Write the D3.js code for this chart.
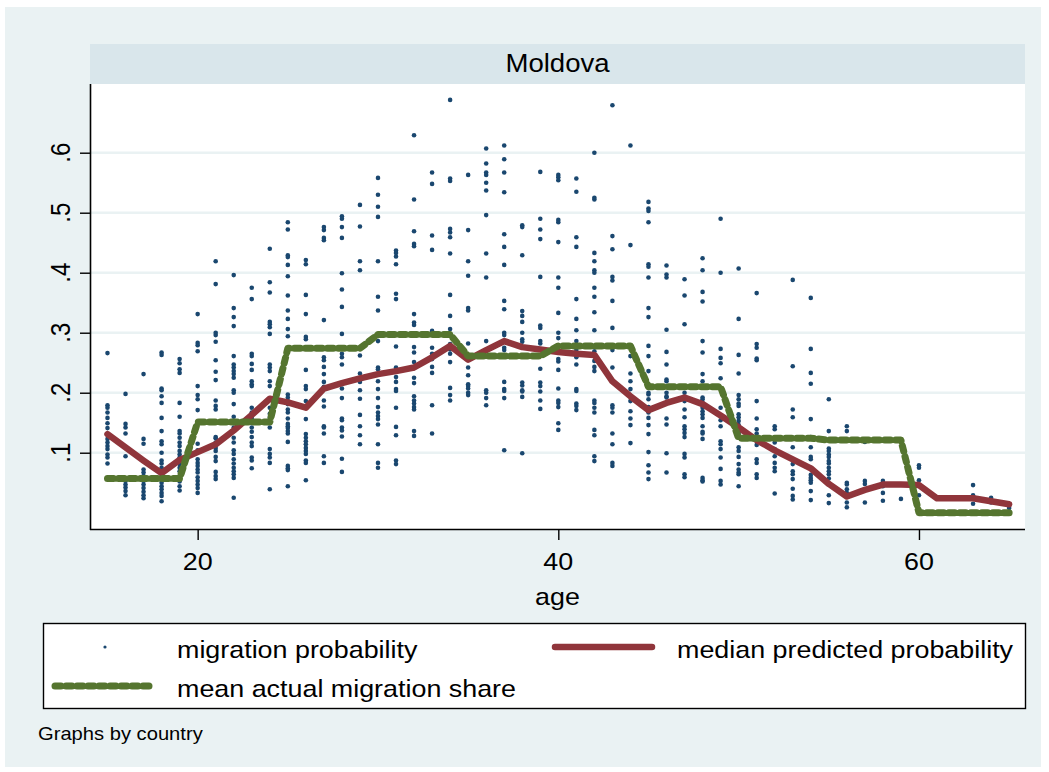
<!DOCTYPE html>
<html><head><meta charset="utf-8">
<script src="https://cdn.jsdelivr.net/npm/d3@7/dist/d3.min.js"></script>
<style>
body{margin:0;background:#fff}
svg{display:block}
text{font-family:"Liberation Sans",Arial,sans-serif;fill:#000}
</style>
</head><body>
<svg id="chart" width="1049" height="772"></svg>
<script>
// ---------------- data ----------------
const panelTitle = "Moldova";
const xAxisTitle = "age";
const noteText = "Graphs by country";
const xTickValues = [20, 40, 60];
const yTickValues = [0.1, 0.2, 0.3, 0.4, 0.5, 0.6];
const yTickLabels = [".1", ".2", ".3", ".4", ".5", ".6"];
const legendLabels = ["migration probability", "median predicted probability", "mean actual migration share"];

const ages = [15,16,17,18,19,20,21,22,23,24,25,26,27,28,29,30,31,32,33,34,35,36,37,38,39,40,
              41,42,43,44,45,46,47,48,49,50,51,52,53,54,55,56,57,58,59,60,61,62,63,64,65];

// migration probability (individual points), one list per age
const migrationProb = [
  [0.266,0.179,0.175,0.167,0.158,0.149,0.141,0.131,0.123,0.117,0.111,0.106,0.097,0.092,0.082],
  [0.198,0.148,0.142,0.132,0.094,0.053,0.047,0.042,0.036,0.029],
  [0.231,0.123,0.115,0.072,0.067,0.061,0.053,0.047,0.041,0.035,0.029,0.024],
  [0.267,0.263,0.207,0.204,0.194,0.183,0.158,0.136,0.119,0.114,0.1,0.087,0.082,0.075,0.069,0.061,0.056,0.05,0.044,0.039,0.033,0.028,0.019],
  [0.256,0.249,0.239,0.233,0.183,0.16,0.136,0.132,0.125,0.117,0.111,0.103,0.097,0.092,0.086,0.081,0.075,0.069,0.06,0.052,0.044,0.037],
  [0.331,0.283,0.279,0.269,0.211,0.196,0.189,0.171,0.115,0.104,0.089,0.083,0.078,0.072,0.067,0.059,0.053,0.047,0.041,0.033],
  [0.419,0.381,0.3,0.296,0.285,0.254,0.235,0.221,0.187,0.178,0.172,0.126,0.124,0.117,0.108,0.103,0.093,0.086,0.068,0.061,0.056],
  [0.396,0.341,0.326,0.311,0.261,0.247,0.242,0.236,0.231,0.225,0.204,0.2,0.181,0.16,0.142,0.136,0.125,0.117,0.104,0.098,0.089,0.082,0.075,0.069,0.064,0.058,0.025],
  [0.375,0.356,0.265,0.261,0.248,0.238,0.219,0.214,0.211,0.175,0.167,0.158,0.15,0.142,0.135,0.126,0.117,0.111,0.092,0.087,0.074],
  [0.44,0.384,0.367,0.318,0.314,0.309,0.298,0.247,0.242,0.236,0.219,0.211,0.175,0.165,0.158,0.142,0.106,0.098,0.092,0.083,0.039],
  [0.484,0.472,0.429,0.426,0.413,0.394,0.362,0.337,0.323,0.306,0.294,0.197,0.192,0.186,0.181,0.172,0.167,0.157,0.148,0.144,0.141,0.136,0.132,0.118,0.078,0.074,0.071,0.044],
  [0.421,0.414,0.363,0.331,0.293,0.289,0.238,0.211,0.206,0.186,0.156,0.131,0.125,0.119,0.114,0.108,0.103,0.098,0.087,0.083,0.054],
  [0.476,0.471,0.458,0.454,0.321,0.259,0.254,0.243,0.231,0.218,0.21,0.187,0.177,0.144,0.142,0.132,0.094,0.083],
  [0.494,0.49,0.476,0.458,0.399,0.372,0.343,0.298,0.265,0.259,0.247,0.207,0.191,0.157,0.154,0.142,0.137,0.127,0.09,0.068],
  [0.513,0.477,0.419,0.404,0.262,0.232,0.218,0.204,0.19,0.163,0.144,0.129,0.114],
  [0.558,0.53,0.51,0.493,0.419,0.36,0.337,0.286,0.242,0.239,0.219,0.206,0.191,0.176,0.167,0.161,0.156,0.147,0.114,0.083,0.075],
  [0.437,0.433,0.427,0.414,0.365,0.356,0.277,0.242,0.226,0.218,0.206,0.203,0.175,0.143,0.129,0.087,0.081],
  [0.629,0.522,0.469,0.448,0.444,0.331,0.317,0.313,0.276,0.267,0.251,0.241,0.225,0.216,0.194,0.187,0.182,0.176,0.172,0.136,0.128],
  [0.567,0.548,0.462,0.438,0.303,0.275,0.265,0.256,0.243,0.233,0.179,0.132],
  [0.688,0.557,0.553,0.473,0.467,0.459,0.432,0.363,0.328,0.306,0.281,0.272,0.265,0.251,0.208,0.196,0.187],
  [0.563,0.471,0.419,0.395,0.341,0.337,0.282,0.242,0.229,0.214,0.211,0.207,0.2,0.196],
  [0.607,0.582,0.567,0.563,0.55,0.537,0.496,0.432,0.392,0.286,0.204,0.2,0.191,0.179],
  [0.612,0.589,0.567,0.534,0.464,0.443,0.413,0.353,0.339,0.3,0.296,0.275,0.271,0.218,0.206,0.203,0.191,0.104],
  [0.479,0.476,0.429,0.336,0.328,0.318,0.3,0.289,0.285,0.217,0.212,0.204,0.202,0.193,0.099],
  [0.568,0.49,0.472,0.456,0.393,0.312,0.308,0.286,0.282,0.24,0.217,0.211,0.202,0.187,0.173],
  [0.563,0.559,0.554,0.488,0.484,0.451,0.392,0.375,0.333,0.3,0.291,0.256,0.252,0.238,0.207,0.187,0.183,0.176,0.149,0.138],
  [0.557,0.535,0.459,0.443,0.356,0.323,0.304,0.286,0.277,0.271,0.259,0.247,0.206,0.203,0.182,0.178,0.171],
  [0.6,0.525,0.522,0.433,0.419,0.404,0.4,0.375,0.36,0.334,0.304,0.269,0.253,0.243,0.236,0.187,0.183,0.175,0.167,0.138,0.129,0.094,0.086],
  [0.679,0.461,0.439,0.393,0.387,0.353,0.308,0.271,0.242,0.179,0.175,0.167,0.132,0.114,0.083,0.078],
  [0.612,0.446,0.261,0.232,0.219,0.206,0.186,0.169,0.157,0.146,0.116],
  [0.518,0.507,0.503,0.484,0.414,0.41,0.392,0.341,0.326,0.278,0.261,0.236,0.2,0.197,0.189,0.176,0.167,0.158,0.146,0.131,0.101,0.079,0.067,0.056],
  [0.412,0.397,0.392,0.305,0.268,0.247,0.222,0.219,0.2,0.194,0.192,0.157,0.147,0.099,0.067],
  [0.389,0.362,0.314,0.2,0.186,0.172,0.159,0.144,0.139,0.133,0.126,0.098,0.092,0.064,0.059],
  [0.424,0.404,0.368,0.352,0.286,0.267,0.231,0.219,0.192,0.189,0.183,0.175,0.169,0.164,0.158,0.144,0.135,0.132,0.123,0.058,0.054,0.052],
  [0.49,0.4,0.273,0.258,0.249,0.224,0.175,0.154,0.144,0.119,0.114,0.106,0.092,0.073,0.053,0.047],
  [0.407,0.323,0.263,0.232,0.196,0.189,0.182,0.178,0.164,0.159,0.153,0.146,0.133,0.109,0.103,0.093,0.081,0.072,0.067,0.064,0.044],
  [0.366,0.281,0.275,0.257,0.254,0.186,0.157,0.139,0.132,0.113,0.089,0.083,0.064,0.058],
  [0.144,0.139,0.125,0.117,0.106,0.094,0.083,0.075,0.069,0.032],
  [0.388,0.244,0.172,0.159,0.125,0.109,0.081,0.069,0.064,0.056,0.04,0.028,0.022],
  [0.358,0.273,0.233,0.215,0.156,0.126,0.109,0.093,0.089,0.075,0.063,0.058,0.054,0.05,0.036,0.021],
  [0.189,0.136,0.107,0.103,0.097,0.093,0.086,0.082,0.075,0.069,0.064,0.057,0.047,0.029,0.016],
  [0.144,0.136,0.05,0.047,0.039,0.033,0.017,0.009],
  [0.118,0.053,0.048,0.017],
  [0.053,0.044,0.033,0.02],
  [0.023],
  [0.079,0.075,0.054,0.029],
  [],
  [],
  [0.046,0.029,0.025,0.015],
  [0.025,0.017],
  [0.008]
];

// median predicted probability by age
const medianPredicted = [0.131,0.109,0.087,0.066,0.088,0.101,0.114,0.137,0.163,0.19,
  0.184,0.175,0.207,0.216,0.224,0.231,0.236,0.242,0.259,0.278,
  0.255,0.271,0.286,0.276,0.272,0.268,0.265,0.263,0.219,0.194,
  0.171,0.183,0.192,0.181,0.162,0.142,0.121,0.104,0.089,0.074,
  0.048,0.027,0.038,0.047,0.047,0.046,0.024,0.024,0.024,0.019,0.014];

// mean actual migration share by age
const meanActual = [0.057,0.057,0.057,0.057,0.057,0.151,0.151,0.151,0.151,0.151,
  0.274,0.274,0.274,0.274,0.274,0.297,0.297,0.297,0.297,0.297,
  0.261,0.261,0.261,0.261,0.261,0.278,0.278,0.278,0.278,0.278,
  0.21,0.21,0.21,0.21,0.21,0.124,0.124,0.124,0.124,0.124,
  0.121,0.121,0.121,0.121,0.121,0.0,0.0,0.0,0.0,0.0,0.0];

// ---------------- drawing ----------------
const W = 1049, H = 772;
const plot = {left: 90, right: 1025, top: 84, bottom: 530};
const colors = {bg: "#eaf2f3", strip: "#d9e6eb", grid: "#eaf2f3", navy: "#1a476f", maroon: "#90353b", green: "#55752f"};
const SX = 1.12; // horizontal text stretch of the original rendering

const svg = d3.select("#chart");

const x = d3.scaleLinear().domain([14.03, 65.88]).range([plot.left, plot.right]);
const y = d3.scaleLinear().domain([-0.0288, 0.7145]).range([plot.bottom, plot.top]);

function label(g, px, py, str, size, anchor, rot, sx) {
  return g.append("text")
    .attr("transform", `translate(${px},${py}) scale(${sx || SX},1)` + (rot ? ` rotate(${rot})` : ""))
    .attr("text-anchor", anchor || "start")
    .style("font-size", size + "px")
    .text(str);
}

// outer background
svg.append("rect").attr("x", 0).attr("y", 0).attr("width", W).attr("height", H).attr("fill", "#fff");
svg.append("rect").attr("x", 5).attr("y", 7).attr("width", 1036).attr("height", 760).attr("fill", colors.bg);

// title strip
svg.append("rect").attr("x", plot.left).attr("y", 44).attr("width", plot.right - plot.left).attr("height", plot.top - 44).attr("fill", colors.strip);
label(svg, (plot.left + plot.right) / 2, 72, panelTitle, 26, "middle", 0, 1.06);

// plot region
svg.append("rect").attr("x", plot.left).attr("y", plot.top).attr("width", plot.right - plot.left).attr("height", plot.bottom - plot.top).attr("fill", "#fff");

// grid
svg.append("g").selectAll("line").data(yTickValues).join("line")
  .attr("x1", plot.left).attr("x2", plot.right)
  .attr("y1", d => y(d)).attr("y2", d => y(d))
  .attr("stroke", colors.grid).attr("stroke-width", 2.6);

// scatter
const pts = [];
ages.forEach((a, i) => migrationProb[i].forEach(v => pts.push({a, v})));
svg.append("g").selectAll("circle").data(pts).join("circle")
  .attr("cx", d => x(d.a)).attr("cy", d => y(d.v)).attr("r", 2.3)
  .attr("fill", colors.navy);

// lines
const series = ages.map((a, i) => ({a, med: medianPredicted[i], mean: meanActual[i]}));
svg.append("path").datum(series)
  .attr("d", d3.line().x(d => x(d.a)).y(d => y(d.med)))
  .attr("fill", "none").attr("stroke", colors.maroon).attr("stroke-width", 6.5)
  .attr("stroke-linejoin", "round").attr("stroke-linecap", "round");
svg.append("path").datum(series)
  .attr("d", d3.line().x(d => x(d.a)).y(d => y(d.mean)))
  .attr("fill", "none").attr("stroke", colors.green).attr("stroke-width", 7)
  .attr("stroke-dasharray", "6,5").attr("stroke-linejoin", "round").attr("stroke-linecap", "round");

// axes
const yAxis = svg.append("g").attr("transform", `translate(${plot.left},0)`)
  .call(d3.axisLeft(y).tickValues(yTickValues).tickSize(10).tickFormat(""));
const xAxis = svg.append("g").attr("transform", `translate(0,${plot.bottom})`)
  .call(d3.axisBottom(x).tickValues(xTickValues).tickSize(10).tickFormat(""));
[yAxis, xAxis].forEach(g => {
  g.select(".domain").attr("stroke", "#000").attr("stroke-width", 1.6);
  g.selectAll(".tick line").attr("stroke", "#000").attr("stroke-width", 1.4);
});
yAxis.select(".domain").attr("d", `M0.5,${plot.top}V${plot.bottom}`);
xAxis.select(".domain").attr("d", `M${plot.left},-0.5H${plot.right}`);

yTickValues.forEach((v, i) => label(svg, 70, y(v), yTickLabels[i], 24, "middle", -90));
xTickValues.forEach(v => label(svg, x(v), 570, String(v), 24, "middle"));
label(svg, (plot.left + plot.right) / 2, 605, xAxisTitle, 24, "middle");

// legend
const lg = svg.append("g");
lg.append("rect").attr("x", 43.5).attr("y", 623.5).attr("width", 982).attr("height", 85)
  .attr("fill", "#fff").attr("stroke", "#000").attr("stroke-width", 1.4);
lg.append("circle").attr("cx", 105).attr("cy", 647).attr("r", 1.6).attr("fill", colors.navy);
label(lg, 177, 658, legendLabels[0], 24, "start");
lg.append("line").attr("x1", 555).attr("x2", 652).attr("y1", 647).attr("y2", 647)
  .attr("stroke", colors.maroon).attr("stroke-width", 6.5).attr("stroke-linecap", "round");
label(lg, 677, 658, legendLabels[1], 24, "start");
lg.append("line").attr("x1", 55).attr("x2", 153).attr("y1", 686).attr("y2", 686)
  .attr("stroke", colors.green).attr("stroke-width", 7).attr("stroke-dasharray", "6,5").attr("stroke-linecap", "round");
label(lg, 177, 697, legendLabels[2], 24, "start");

label(svg, 38, 740, noteText, 18, "start");
</script>
</body></html>
